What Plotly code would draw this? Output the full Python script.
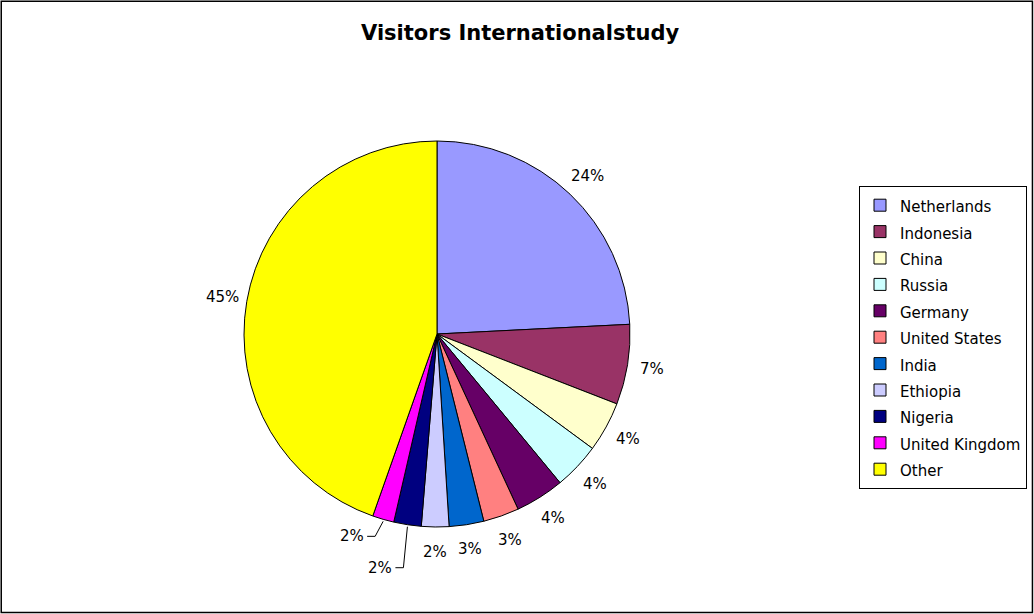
import math
import plotly.graph_objects as go

countries = ["Netherlands", "Indonesia", "China", "Russia", "Germany", "United States",
             "India", "Ethiopia", "Nigeria", "United Kingdom", "Other"]
shares = [24.2, 6.7, 4.2, 3.9, 4.1, 3.0, 2.9, 2.3, 2.3, 1.8, 44.6]
colors = ["#9999FF", "#993366", "#FFFFCC", "#CCFFFF", "#660066", "#FF8080",
          "#0066CC", "#CCCCFF", "#000080", "#FF00FF", "#FFFF00"]

W, H = 1034, 614
cx, cy, r = 437, 334, 193
label_r = 218
# labels that Excel pulled away from their slice (pixel offsets from the slice edge), with leader lines
moved = {"Nigeria": (-27, 43), "United Kingdom": (-31, 17)}

legend_names = ['<span style="font-size:15px">%s</span>' % c for c in countries]

fig = go.Figure(go.Pie(
    labels=legend_names,
    values=shares,
    sort=False,
    direction="clockwise",
    rotation=0,
    marker=dict(colors=colors, line=dict(color="black", width=1)),
    textinfo="none",
    domain=dict(x=[(cx - r) / W, (cx + r) / W], y=[(H - cy - r) / H, (H - cy + r) / H]),
    hoverinfo="label+percent",
))

def px(x):
    return x / W

def py(y):
    return 1 - y / H

annotations = []
shapes = [dict(type="rect", xref="paper", yref="paper", x0=0.0012, x1=0.9985, y0=0.0025, y1=0.998,
               line=dict(color="black", width=1.5))]
total = sum(shares)
cum = 0.0
for name, v in zip(countries, shares):
    mid = 90 - (cum + v / 2) / total * 360
    cum += v
    a = math.radians(mid)
    pct = "%d%%" % round(v / total * 100)
    if name in moved:
        ex, ey = cx + r * math.cos(a), cy - r * math.sin(a)
        dx, dy = moved[name]
        lx, ly = ex + dx, ey + dy
        shapes.append(dict(type="path", xref="paper", yref="paper",
                           path="M %f %f L %f %f L %f %f" % (px(lx + 15), py(ly), px(lx + 23), py(ly),
                                                            px(ex), py(ey + 2)),
                           line=dict(color="black", width=1)))
    else:
        lx, ly = cx + label_r * math.cos(a), cy - label_r * math.sin(a)
    annotations.append(dict(x=px(lx), y=py(ly), xref="paper", yref="paper", text=pct,
                            showarrow=False, xanchor="center", yanchor="middle",
                            font=dict(size=15, family="DejaVu Sans", color="black")))

fig.update_layout(
    width=W, height=H,
    margin=dict(l=0, r=0, t=0, b=0),
    paper_bgcolor="white",
    font=dict(family="DejaVu Sans", color="black"),
    title=dict(text="<b>Visitors Internationalstudy</b>", x=0.503, xanchor="center",
               y=1 - 33 / H, yanchor="middle", font=dict(size=21, family="DejaVu Sans")),
    legend=dict(x=859 / W, y=1 - 186 / H, xanchor="left", yanchor="top",
                bordercolor="black", borderwidth=1, bgcolor="white",
                font=dict(size=18.0, family="DejaVu Sans"), itemwidth=30),
    annotations=annotations,
    shapes=shapes,
)

fig.write_html("out.html")
